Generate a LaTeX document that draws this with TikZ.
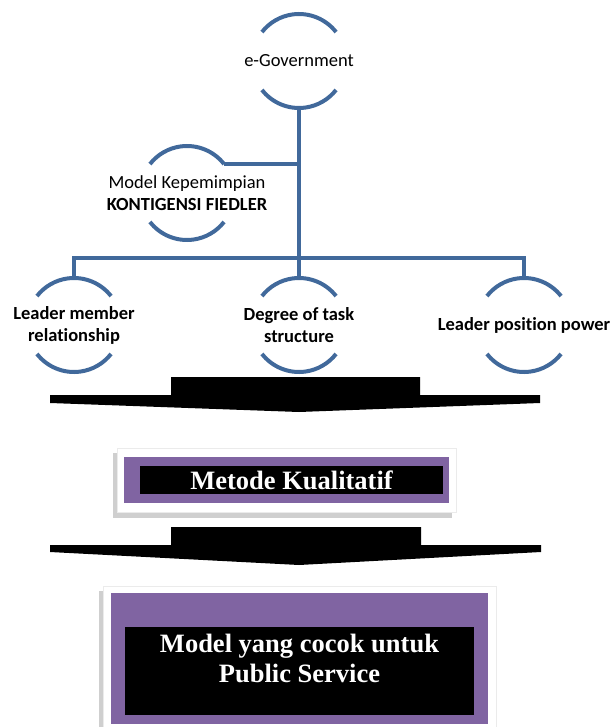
\documentclass[tikz,border=0pt]{standalone}
\usepackage{fontspec}
\newfontfamily\calfont[Ligatures=NoCommon]{Carlito}
\newfontfamily\timesfont{Liberation Serif}
\definecolor{arcblue}{HTML}{41699B}
\definecolor{boxpurple}{HTML}{8064A2}
\definecolor{shadowgray}{HTML}{CFCFCF}
\begin{document}
\begin{tikzpicture}[x=1pt,y=1pt,
  ringtext/.style={inner sep=0pt,outer sep=0pt,align=center,font=\calfont\fontsize{18.5}{21.5}\selectfont},
  ringbold/.style={ringtext,font=\calfont\bfseries\fontsize{18.5}{22}\selectfont},
  arcline/.style={draw=arcblue,line width=4pt},
  link/.style={draw=arcblue,line width=4pt},
  bigarrow/.style={fill=black,draw=none},
  frame/.style={fill=white,draw=black!8,line width=0.6pt},
  shade/.style={fill=shadowgray,draw=none},
  purplebox/.style={fill=boxpurple,draw=none},
  blackbox/.style={fill=black,draw=none,inner sep=0pt},
  boxtext/.style={text=white,align=center,inner sep=0pt,
    font=\timesfont\bfseries\fontsize{26.5}{30}\selectfont}
]
\useasboundingbox (0,0) rectangle (612,-727);

% ---------- ring nodes ----------
\node[ringtext] (egov) at (299,-61) {e-Government};
\node[ringtext] (mk) at (187,-193) {Model Kepemimpian\\\textbf{KONTIGENSI FIEDLER}};
\node[ringbold] (lmr) at (74,-325) {Leader member\\relationship};
\node[ringbold] (dts) at (299,-325) {Degree of task\\structure};
\node[ringbold] (lpp) at (524,-325) {Leader position power};

\foreach \n in {egov,mk,lmr,dts,lpp}{
  \draw[arcline] (\n.center) ++(38:47) arc[start angle=38,end angle=142,radius=47];
  \draw[arcline] (\n.center) ++(218:47) arc[start angle=218,end angle=322,radius=47];
}

% ---------- connectors ----------
\coordinate (j) at (299,-258);
\coordinate (egovb) at ([yshift=-47pt]egov.center);
\coordinate (mkc) at ([shift={(38:47)}]mk.center);
\coordinate (lmrt) at ([yshift=47pt]lmr.center);
\coordinate (dtst) at ([yshift=47pt]dts.center);
\coordinate (lppt) at ([yshift=47pt]lpp.center);
\draw[link] (egovb) -- (j);
\draw[link] (mkc) -- (mkc -| j);
\draw[link] (lmrt) |- (j);
\draw[link] (j) -| (lppt);
\draw[link] (j) -- (dtst);

% ---------- first arrow ----------
\fill[bigarrow] (171,-377) -- (420,-377) -- (420,-395) -- (540,-395) -- (540,-403)
  -- (299,-412) -- (50,-403) -- (50,-395) -- (171,-395) -- cycle;

% ---------- Metode Kualitatif ----------
\fill[shade] (113,-453) rectangle (452,-518);
\draw[frame] (117,-448) rectangle (456,-512);
\fill[purplebox] (124,-457) rectangle (449,-503);
\node[blackbox,minimum width=303pt,minimum height=28pt] (mkbox) at (291.5,-480) {};
\node[boxtext] (mkual) at (mkbox.center) {Metode Kualitatif};

% ---------- second arrow ----------
\fill[bigarrow] (171,-527) -- (421,-527) -- (421,-545) -- (541,-545) -- (541,-552)
  -- (299,-565) -- (50,-552) -- (50,-545) -- (171,-545) -- cycle;

% ---------- Model yang cocok ----------
\fill[shade] (99,-591) rectangle (492,-727);
\draw[frame] (103,-586) rectangle (496,-730);
\fill[purplebox] (111,-593) rectangle (488,-724);
\node[blackbox,minimum width=349pt,minimum height=88pt] (modelbox) at (299.5,-671) {};
\node[boxtext] (model) at (299.5,-658) {Model yang cocok untuk\\Public Service};
\end{tikzpicture}
\end{document}
